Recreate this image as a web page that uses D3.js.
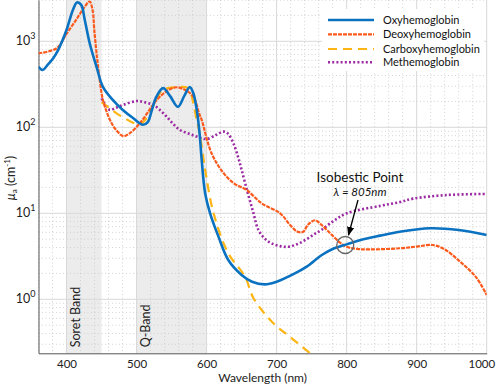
<!DOCTYPE html>
<html><head><meta charset="utf-8">
<script src="https://cdn.jsdelivr.net/npm/d3@7"></script>
<style>
html,body{margin:0;padding:0;background:#fff;}
svg{display:block;font-family:Lato, "Open Sans", sans-serif;}
</style></head>
<body><svg id="chart" width="498" height="386"></svg>
<script>
// ---- data (wavelength nm, absorption coefficient cm^-1) ----
const seriesNames = ["Oxyhemoglobin","Deoxyhemoglobin","Carboxyhemoglobin","Methemoglobin"];
const oxyWl  = [360,366,373,381,388,400,409,415,421,426,433,443,452,466,480,495,509,516,522,528,538,548,559,568,576,581,586,590,593,598,605,617,631,650,665,683,700,726,743,764,780,800,820,848,876,919,960,1000];
const oxyVal = [505,464,530,635,790,1350,2300,2830,2650,1780,955,500,295,208,160,128,107,115,160,224,285,230,173,230,294,250,159,85,42,17,10,5.35,2.86,1.92,1.6,1.49,1.6,2.0,2.4,3.25,3.85,4.35,4.9,5.5,6.1,6.7,6.4,5.6];
const deoxyWl  = [360,386,400,415,425,433,437,440,444,448,452,462,470,481,490,505,529,545,557,570,581,590,593,607,624,640,657,679,705,720,730,738,745,755,762,776,790,800,815,833,876,900,923,940,962,985,1000];
const deoxyVal = [724,830,1220,1840,2450,2900,2350,1250,600,326,208,122,95,79,85,112,208,270,292,270,227,140,122,50,29.5,22,18.7,13,10,7.2,6.1,6.1,7.4,8.3,7.6,5.9,4.6,4.08,3.85,3.8,3.92,4.1,4.28,3.8,2.74,1.8,1.12];
const carboxyWl  = [450,460,471,485,495,505,515,523,536,545,557,571,576,581,586,590,598,610,631,655,667,695,720,748];
const carboxyVal = [196,170,146,125,113,109,130,173,266,285,292,292,270,191,120,86,32,10,3.43,1.83,1.03,0.53,0.36,0.235];
const metWl  = [450,456,462,470,481,500,512,524,533,543,552,562,575,586,600,614,624,630,638,645,650,659,667,674,684,693,705,717,730,743,755,764,780,800,848,876,895,943,1000];
const metVal = [217,180,159,168,182,202,195,182,160,133,110,93,84,78,73,82,89,85,66,45,32,17,10,6.4,5.0,4.47,4.15,4.08,4.4,5.0,5.8,6.4,8.0,10,12.2,13.5,14.8,16.3,16.8];
const xTicks = [400,500,600,700,800,900,1000];
const yTickExp = [0,1,2,3];
const bands = [{name:"Soret Band", from:400, to:450},{name:"Q-Band", from:500, to:600}];
const isobestic = {wl:798, val:4.28, title:"Isobestic Point", label:"λ = 805nm"};

// ---- layout ----
const svg = d3.select("#chart");
const L = 38.5, R = 486.7, T = 0, B = 353.3;
const x = d3.scaleLinear().domain([360,1000]).range([L,R]);
const y = d3.scaleLog().domain([Math.pow(10,-0.628), Math.pow(10,3.48)]).range([B,T]);

const defs = svg.append("defs");
defs.append("clipPath").attr("id","clip")
  .append("rect").attr("x",L).attr("y",T).attr("width",R-L).attr("height",B-T);

// bands
svg.append("g").selectAll("rect").data(bands).join("rect")
  .attr("x",d=>x(d.from)).attr("width",d=>x(d.to)-x(d.from))
  .attr("y",T).attr("height",B-T).attr("fill","#ececec");

// grid
const grid = svg.append("g");
const xMinor = d3.range(360,1001,20).filter(v=>v%100!==0);
grid.selectAll(".xm").data(xMinor).join("line")
  .attr("x1",d=>x(d)).attr("x2",d=>x(d)).attr("y1",T).attr("y2",B)
  .attr("stroke","#c9c9c9").attr("stroke-width",0.8).attr("stroke-dasharray","1,2.5");
const yMinor = [];
for (let e=-1;e<=3;e++) for (let m=2;m<=9;m++){const v=m*Math.pow(10,e); if(v>=y.domain()[0]&&v<=y.domain()[1]) yMinor.push(v);}
grid.selectAll(".ym").data(yMinor).join("line")
  .attr("x1",L).attr("x2",R).attr("y1",d=>y(d)).attr("y2",d=>y(d))
  .attr("stroke","#c9c9c9").attr("stroke-width",0.8).attr("stroke-dasharray","1,2.5");
grid.selectAll(".xM").data(xTicks).join("line")
  .attr("x1",d=>x(d)).attr("x2",d=>x(d)).attr("y1",T).attr("y2",B)
  .attr("stroke","#d8d8d8").attr("stroke-width",1);
grid.selectAll(".yM").data(yTickExp).join("line")
  .attr("x1",L).attr("x2",R).attr("y1",d=>y(Math.pow(10,d))).attr("y2",d=>y(Math.pow(10,d)))
  .attr("stroke","#d8d8d8").attr("stroke-width",1);

// band labels
svg.append("g").selectAll("text").data(bands).join("text")
  .attr("transform",d=>`translate(${x(d.from)+13},${B-6}) rotate(-90)`)
  .attr("font-size",12.5).attr("fill","#222").text(d=>d.name);

// axes
const xAxis = d3.axisBottom(x).tickValues(xTicks).tickSize(0).tickPadding(7).tickFormat(d3.format("d"));
const gx = svg.append("g").attr("transform",`translate(0,${B})`).call(xAxis);
gx.select(".domain").attr("stroke","#555");
gx.selectAll("text").attr("font-size",11.5).attr("fill","#222").attr("font-family","Lato, sans-serif");
gx.selectAll(".tick").filter(d=>d===1000).select("text").attr("text-anchor","end").attr("dx",8);
const yAxis = d3.axisLeft(y).tickValues(yTickExp.map(e=>Math.pow(10,e))).tickSize(0).tickFormat("");
const gy = svg.append("g").attr("transform",`translate(${L},0)`).call(yAxis);
gy.select(".domain").attr("stroke","#555");
const yl = svg.append("g").selectAll("text").data(yTickExp).join("text")
  .attr("x",L-3).attr("y",d=>y(Math.pow(10,d))+4).attr("text-anchor","end")
  .attr("font-size",12.5).attr("fill","#222");
yl.append("tspan").text("10");
yl.append("tspan").attr("dy",-6).attr("font-size",9).text(d=>d);

svg.append("text").attr("x",(L+R)/2).attr("y",382).attr("text-anchor","middle")
  .attr("font-size",12).attr("fill","#222").text("Wavelength (nm)");
const ylab = svg.append("text").attr("transform","translate(15,178) rotate(-90)")
  .attr("text-anchor","middle").attr("font-size",12.5).attr("fill","#222");
ylab.append("tspan").attr("font-style","italic").text("μ");
ylab.append("tspan").attr("font-size",8).attr("dy",2).text("a");
ylab.append("tspan").attr("dy",-2).text(" (cm");
ylab.append("tspan").attr("font-size",8).attr("dy",-5).text("-1");
ylab.append("tspan").attr("dy",5).text(")");

// lines
const styles = [
  {wl:oxyWl, val:oxyVal, color:"#0a72c0", width:2.6, dash:null},
  {wl:deoxyWl, val:deoxyVal, color:"#fb5a1c", width:2.2, dash:"4,1"},
  {wl:carboxyWl, val:carboxyVal, color:"#fdb515", width:2.2, dash:"9,6"},
  {wl:metWl, val:metVal, color:"#9c2aa3", width:2.6, dash:"2,2.2"}
];
const line = d3.line().x(d=>x(d[0])).y(d=>y(d[1])).curve(d3.curveCatmullRom.alpha(0.5));
const lg = svg.append("g").attr("clip-path","url(#clip)");
[3,2,1,0].forEach(i=>{
  const s = styles[i];
  const pts = s.wl.map((w,j)=>[w,s.val[j]]);
  lg.append("path").attr("d",line(pts)).attr("fill","none")
    .attr("stroke",s.color).attr("stroke-width",s.width)
    .attr("stroke-dasharray",s.dash).attr("stroke-linejoin","round");
});

// legend
const leg = svg.append("g");
leg.append("rect").attr("x",322).attr("y",9).attr("width",162).attr("height",62).attr("fill","#fff");
const ly = [20,34.3,49,62.3];
styles.forEach((s,i)=>{
  leg.append("line").attr("x1",328).attr("x2",374).attr("y1",ly[i]).attr("y2",ly[i])
    .attr("stroke",s.color).attr("stroke-width",s.width).attr("stroke-dasharray",s.dash);
  leg.append("text").attr("x",383).attr("y",ly[i]+4).attr("font-size",11).attr("fill","#111").text(seriesNames[i]);
});

// isobestic annotation
const cx = x(isobestic.wl), cy = y(isobestic.val);
svg.append("circle").attr("cx",cx).attr("cy",cy).attr("r",8.5).attr("fill","none")
  .attr("stroke","#666").attr("stroke-width",1.3);
svg.append("text").attr("x",360).attr("y",182).attr("text-anchor","middle")
  .attr("font-size",13.5).attr("fill","#111").text(isobestic.title);
svg.append("text").attr("x",360).attr("y",196).attr("text-anchor","middle")
  .attr("font-size",11.5).attr("font-style","italic").attr("fill","#111").text(isobestic.label);
defs.append("marker").attr("id","arr").attr("viewBox","0 0 10 10")
  .attr("refX",9).attr("refY",5).attr("markerWidth",7).attr("markerHeight",7).attr("orient","auto")
  .append("path").attr("d","M0,1 L10,5 L0,9 z").attr("fill","#000");
svg.append("line").attr("x1",358).attr("y1",200).attr("x2",348.5).attr("y2",235)
  .attr("stroke","#000").attr("stroke-width",1.3).attr("marker-end","url(#arr)");
</script></body></html>
